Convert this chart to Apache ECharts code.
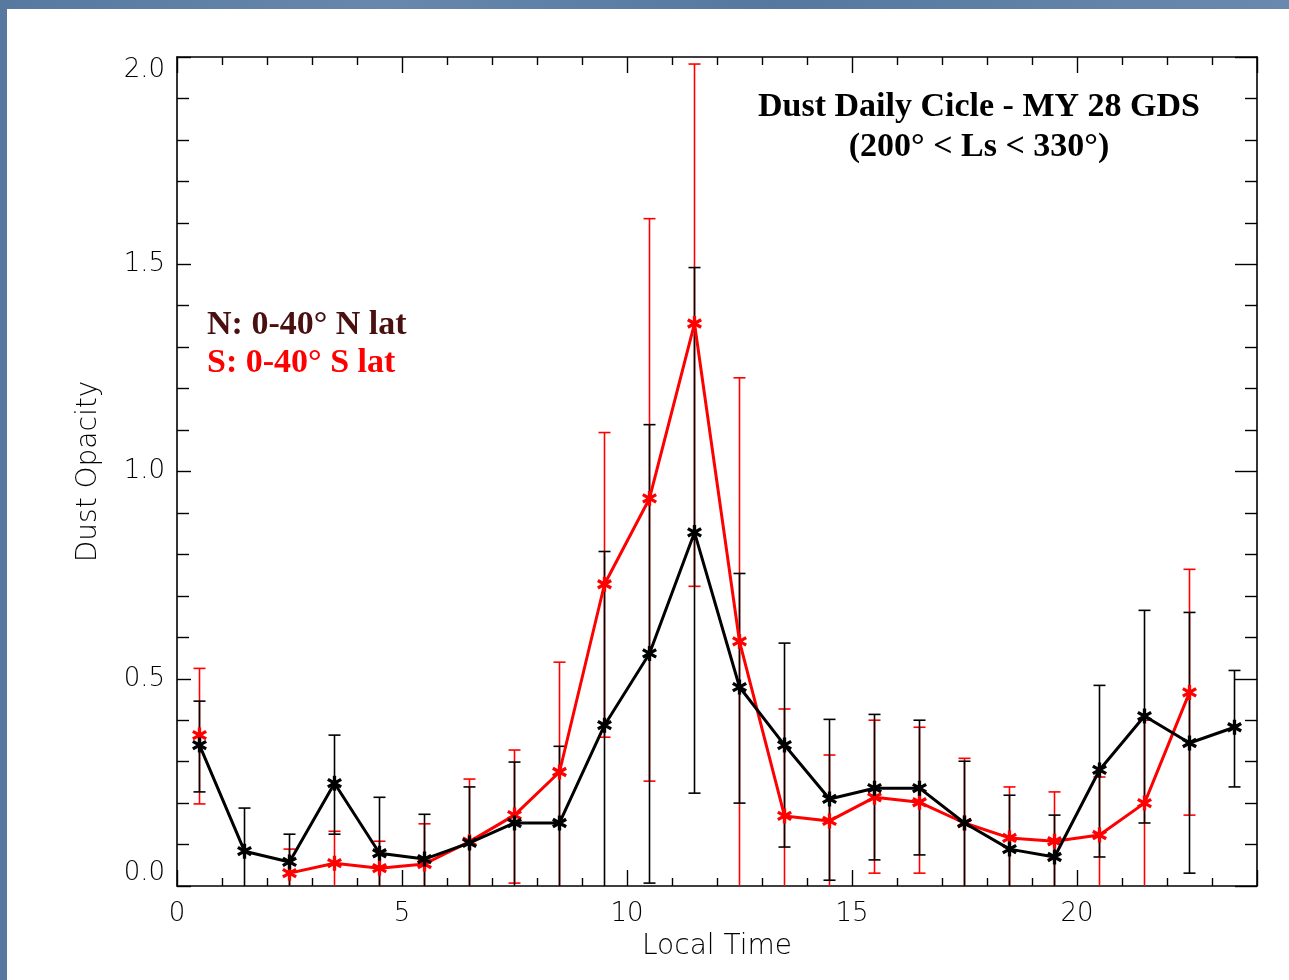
<!DOCTYPE html>
<html>
<head>
<meta charset="utf-8">
<script src="https://cdn.jsdelivr.net/npm/echarts@6/dist/echarts.min.js"></script>
<style>
  html, body { margin: 0; padding: 0; }
  body {
    width: 1289px; height: 980px; overflow: hidden;
    background: linear-gradient(90deg, #58799f 0%, #6787ad 30%, #56789e 60%, #6a89ae 100%);
  }
  #chart {
    position: absolute; left: 7px; top: 9px;
    width: 1282px; height: 971px; background: #ffffff;
  }
</style>
</head>
<body>
<div id="chart"></div>
<script>
// local time (hour bins)
const hours = [0.5, 1.5, 2.5, 3.5, 4.5, 5.5, 6.5, 7.5, 8.5, 9.5, 10.5, 11.5,
  12.5, 13.5, 14.5, 15.5, 16.5, 17.5, 18.5, 19.5, 20.5, 21.5, 22.5, 23.5]

// N: 0-40 N lat (black)
const northMean = [0.34, 0.084, 0.058, 0.248, 0.079, 0.065, 0.104, 0.152, 0.152, 0.388, 0.561, 0.853,
  0.480, 0.340, 0.210, 0.236, 0.236, 0.152, 0.089, 0.070, 0.280, 0.410, 0.345, 0.383]
const northHigh = [0.446, 0.188, 0.125, 0.364, 0.214, 0.173, 0.239, 0.299, 0.337, 0.807, 1.113, 1.492,
  0.754, 0.586, 0.402, 0.414, 0.400, 0.301, 0.219, 0.171, 0.484, 0.665, 0.660, 0.520]
// null = bar runs below the axis (no lower cap visible)
const northLow = [0.227, null, null, 0.125, null, null, null, null, null, null, 0.007, 0.224,
  0.200, 0.094, 0.014, 0.063, 0.075, null, null, null, 0.070, 0.152, 0.031, 0.239]

// S: 0-40 S lat (red)
const southMean = [0.364, null, 0.031, 0.055, 0.043, 0.053, 0.107, 0.171, 0.275, 0.728, 0.935, 1.357,
  0.590, 0.169, 0.157, 0.214, 0.202, 0.152, 0.116, 0.108, 0.123, 0.200, 0.467, null]
const southHigh = [0.525, null, 0.089, 0.132, 0.108, 0.150, 0.258, 0.328, 0.540, 1.094, 1.610, 1.983,
  1.226, 0.427, 0.316, 0.400, 0.383, 0.308, 0.239, 0.227, 0.263, 0.400, 0.764, null]
const southLow = [0.198, null, null, null, null, null, null, 0.007, null, 0.359, 0.253, 0.723,
  null, null, null, 0.031, 0.031, null, null, null, null, null, 0.171, null]

const xTicks = [0, 5, 10, 15, 20]
const yTicks = [0.0, 0.5, 1.0, 1.5, 2.0]

const chart = echarts.init(document.getElementById('chart'))

// asterisk marker (vertical bar + two diagonals)
const asterisk = 'path://M-1.3,-6L1.3,-6L1.3,6L-1.3,6Z' +
  'M-5.85,-1.874L-4.55,-4.126L5.85,1.874L4.55,4.126Z' +
  'M-4.55,4.126L-5.85,1.874L4.55,-4.126L5.85,-1.874Z'

const tickFont = { fontFamily: 'DejaVu Sans', fontWeight: 200, fontSize: 26, color: '#000' }
const nameFont = { fontFamily: 'DejaVu Sans', fontWeight: 200, fontSize: 28, color: '#000' }
const serif = { fontFamily: 'Liberation Serif', fontWeight: 'bold', fontSize: 34 }

function errData (mean, low, high) {
  const out = []
  hours.forEach((h, i) => {
    if (mean[i] == null) return
    out.push([h, low[i] == null ? '-' : low[i], high[i], mean[i]])
  })
  return out
}

function errRender (color) {
  return function (params, api) {
    const x = api.value(0)
    const lo = api.value(1)
    const hi = api.value(2)
    const hasLo = !isNaN(lo) && lo !== '-'
    const top = api.coord([x, hi])
    const bot = api.coord([x, hasLo ? lo : 0])
    const hw = 6
    const style = { stroke: color, lineWidth: 1.6 }
    const children = [
      { type: 'line', shape: { x1: top[0], y1: top[1], x2: bot[0], y2: bot[1] }, style },
      { type: 'line', shape: { x1: top[0] - hw, y1: top[1], x2: top[0] + hw, y2: top[1] }, style }
    ]
    if (hasLo) {
      children.push({ type: 'line', shape: { x1: bot[0] - hw, y1: bot[1], x2: bot[0] + hw, y2: bot[1] }, style })
    }
    return { type: 'group', children }
  }
}

function axisCommon () {
  return {
    axisLine: { show: true, onZero: false, lineStyle: { color: '#000', width: 1.6 } },
    splitLine: { show: false },
    minorSplitLine: { show: false }
  }
}

const option = {
  backgroundColor: 'transparent',
  animation: false,
  grid: { left: 170, top: 48, right: 32, bottom: 94 },
  xAxis: [
    Object.assign(axisCommon(), {
      type: 'value', min: 0, max: 24, interval: 5, position: 'bottom',
      name: 'Local Time', nameLocation: 'middle', nameGap: 47,
      nameTextStyle: nameFont,
      axisLabel: Object.assign({ margin: 15, formatter: v => xTicks.includes(v) ? String(v) : '' }, tickFont),
      axisTick: { show: true, inside: true, length: 16, lineStyle: { color: '#000', width: 1.4 } },
      minorTick: { show: true, splitNumber: 5, length: 8, lineStyle: { color: '#000', width: 1.4 } }
    }),
    Object.assign(axisCommon(), {
      type: 'value', min: 0, max: 24, interval: 5, position: 'top',
      axisLabel: { show: false },
      axisTick: { show: true, inside: true, length: 16, lineStyle: { color: '#000', width: 1.4 } },
      minorTick: { show: true, splitNumber: 5, length: 8, lineStyle: { color: '#000', width: 1.4 } }
    })
  ],
  yAxis: [
    Object.assign(axisCommon(), {
      type: 'value', min: 0, max: 2, interval: 0.5, position: 'left',
      name: 'Dust Opacity', nameLocation: 'middle', nameGap: 74,
      nameTextStyle: nameFont,
      axisLabel: Object.assign({
        margin: 12,
        verticalAlignMinLabel: 'bottom',
        verticalAlignMaxLabel: 'top',
        formatter: v => yTicks.includes(v) ? v.toFixed(1) : ''
      }, tickFont),
      axisTick: { show: true, inside: true, length: 14, lineStyle: { color: '#000', width: 1.4 } },
      minorTick: { show: true, splitNumber: 5, length: 12, lineStyle: { color: '#000', width: 1.4 } }
    }),
    Object.assign(axisCommon(), {
      type: 'value', min: 0, max: 2, interval: 0.5, position: 'right',
      axisLabel: { show: false },
      axisTick: { show: true, inside: true, length: 22, lineStyle: { color: '#000', width: 1.4 } },
      minorTick: { show: true, splitNumber: 5, length: 12, lineStyle: { color: '#000', width: 1.4 } }
    })
  ],
  graphic: [
    {
      type: 'text', x: 972, y: 98,
      style: Object.assign({ text: 'Dust Daily Cicle - MY 28 GDS', fill: '#000', align: 'center', verticalAlign: 'middle' }, serif)
    },
    {
      type: 'text', x: 972, y: 138,
      style: Object.assign({ text: '(200° < Ls < 330°)', fill: '#000', align: 'center', verticalAlign: 'middle' }, serif)
    },
    {
      type: 'text', x: 200, y: 316,
      style: Object.assign({ text: 'N: 0-40° N lat', fill: '#4a1010', verticalAlign: 'middle' }, serif)
    },
    {
      type: 'text', x: 200, y: 354,
      style: Object.assign({ text: 'S: 0-40° S lat', fill: '#ff0000', verticalAlign: 'middle' }, serif)
    }
  ],
  series: [
    {
      type: 'custom', name: 'S err', xAxisIndex: 0, yAxisIndex: 0, clip: true, z: 2,
      renderItem: errRender('#ff0000'),
      encode: { x: 0, y: [1, 2] },
      data: errData(southMean, southLow, southHigh)
    },
    {
      type: 'custom', name: 'N err', xAxisIndex: 0, yAxisIndex: 0, clip: true, z: 3,
      renderItem: errRender('#000000'),
      encode: { x: 0, y: [1, 2] },
      data: errData(northMean, northLow, northHigh)
    },
    {
      type: 'line', name: 'S', z: 4,
      data: hours.map((h, i) => [h, southMean[i]]),
      symbol: asterisk, symbolSize: 15, showAllSymbol: true,
      lineStyle: { color: '#ff0000', width: 3 },
      itemStyle: { color: '#ff0000' }
    },
    {
      type: 'line', name: 'N', z: 5,
      data: hours.map((h, i) => [h, northMean[i]]),
      symbol: asterisk, symbolSize: 15, showAllSymbol: true,
      lineStyle: { color: '#000000', width: 3 },
      itemStyle: { color: '#000000' }
    }
  ]
}

chart.setOption(option)
</script>
</body>
</html>
